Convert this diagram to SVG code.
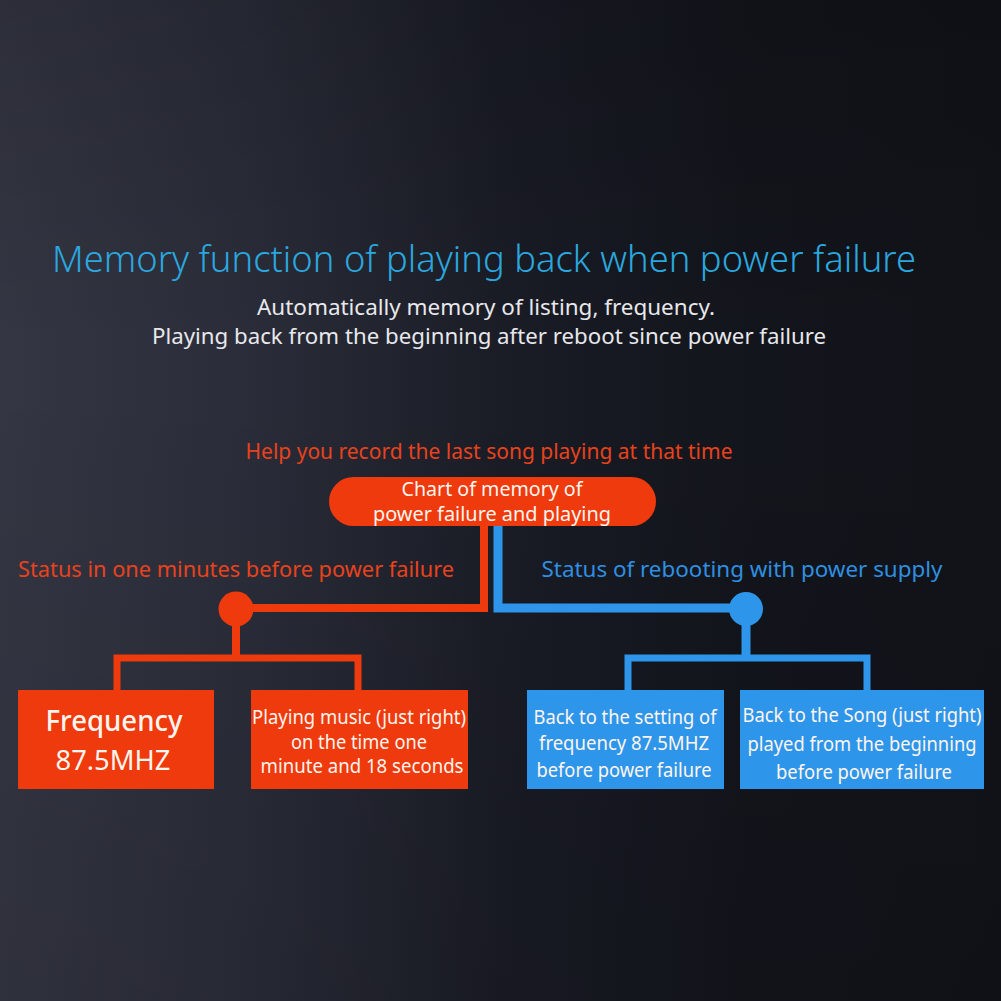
<svg xmlns="http://www.w3.org/2000/svg" width="1001" height="1001" viewBox="0 0 1001 1001">
<defs>
<linearGradient id="bg" x1="0" y1="0" x2="1" y2="0">
<stop offset="0" stop-color="#343643"/>
<stop offset="0.25" stop-color="#2a2d39"/>
<stop offset="0.5" stop-color="#1a1c26"/>
<stop offset="0.75" stop-color="#13151c"/>
<stop offset="1" stop-color="#111319"/>
</linearGradient>
<linearGradient id="bgv" x1="0" y1="0" x2="0" y2="1">
<stop offset="0" stop-color="#000" stop-opacity="0.15"/>
<stop offset="0.35" stop-color="#000" stop-opacity="0"/>
<stop offset="1" stop-color="#000" stop-opacity="0.1"/>
</linearGradient>
<style>
text{font-family:"Source Sans Pro","Noto Sans","Open Sans",sans-serif;text-anchor:middle}
.title{font-size:37px;font-weight:300;fill:#2aa7df}
.sub{font-size:22px;fill:#e8e8ec}
.red{fill:#e8421d}
.blue{fill:#2f8fe0}
.lbl{font-size:21px}
.rbox{fill:#ee3a0c}
.bbox{fill:#2e96ea}
.rl{stroke:#ee3a0c;fill:none}
.bl{stroke:#2e96ea;fill:none}
.bt{font-size:19px;fill:#fff4ee}
</style>
</defs>
<rect width="1001" height="1001" fill="url(#bg)"/>
<rect width="1001" height="1001" fill="url(#bgv)"/>

<g id="texts">
<text class="title" x="484" y="272" textLength="864" lengthAdjust="spacingAndGlyphs">Memory function of playing back when power failure</text>
<text class="sub" x="486" y="315" textLength="458" lengthAdjust="spacingAndGlyphs">Automatically memory of listing, frequency.</text>
<text class="sub" x="489" y="344" textLength="674" lengthAdjust="spacingAndGlyphs">Playing back from the beginning after reboot since power failure</text>
<text class="lbl red" x="489" y="459" textLength="487" lengthAdjust="spacingAndGlyphs">Help you record the last song playing at that time</text>
<text class="lbl red" x="236" y="577" textLength="436" lengthAdjust="spacingAndGlyphs">Status in one minutes before power failure</text>
<text class="lbl blue" x="742" y="577" textLength="401" lengthAdjust="spacingAndGlyphs">Status of rebooting with power supply</text>
</g>

<g id="connectors">
<polyline class="rl" stroke-width="8" points="484,520 484,608 236,608 236,658"/>
<polyline class="bl" stroke-width="9" points="498,520 498,608 746,608 746,658"/>
<polyline class="rl" stroke-width="7" points="117,692 117,658 358,658 358,692"/>
<polyline class="bl" stroke-width="7" points="628,692 628,658 867,658 867,692"/>
<circle cx="236" cy="609" r="17.5" fill="#ee3a0c"/>
<circle cx="746" cy="609" r="17" fill="#2e96ea"/>
</g>

<g id="chart">
<rect class="rbox" x="329" y="477" width="327" height="49" rx="24.5"/>
<text class="bt" x="492" y="496" font-size="18.5" textLength="181" lengthAdjust="spacingAndGlyphs">Chart of memory of</text>
<text class="bt" x="492" y="521" font-size="18.5" textLength="238" lengthAdjust="spacingAndGlyphs">power failure and playing</text>
</g>

<g id="frequency">
<rect class="rbox" x="18" y="690" width="196" height="99"/>
<text x="114" y="731" font-size="28" font-weight="500" fill="#fff4ee" textLength="137" lengthAdjust="spacingAndGlyphs">Frequency</text>
<text x="113" y="770" font-size="28" fill="#fff4ee" textLength="115" lengthAdjust="spacingAndGlyphs">87.5MHZ</text>
</g>

<g id="playing">
<rect class="rbox" x="251" y="690" width="217" height="99"/>
<text class="bt" x="359" y="724" textLength="214" lengthAdjust="spacingAndGlyphs">Playing music (just right)</text>
<text class="bt" x="359" y="749" textLength="136" lengthAdjust="spacingAndGlyphs">on the time one</text>
<text class="bt" x="362" y="773" textLength="203" lengthAdjust="spacingAndGlyphs">minute and 18 seconds</text>
</g>

<g id="backsetting">
<rect class="bbox" x="527" y="690" width="197" height="99"/>
<text class="bt" x="625" y="724" textLength="183" lengthAdjust="spacingAndGlyphs">Back to the setting of</text>
<text class="bt" x="624" y="750" textLength="170" lengthAdjust="spacingAndGlyphs">frequency 87.5MHZ</text>
<text class="bt" x="624" y="777" textLength="175" lengthAdjust="spacingAndGlyphs">before power failure</text>
</g>

<g id="backsong">
<rect class="bbox" x="740" y="690" width="244" height="99"/>
<text class="bt" x="862" y="722" textLength="239" lengthAdjust="spacingAndGlyphs">Back to the Song (just right)</text>
<text class="bt" x="862" y="751" textLength="229" lengthAdjust="spacingAndGlyphs">played from the beginning</text>
<text class="bt" x="864" y="779" textLength="176" lengthAdjust="spacingAndGlyphs">before power failure</text>
</g>
</svg>
